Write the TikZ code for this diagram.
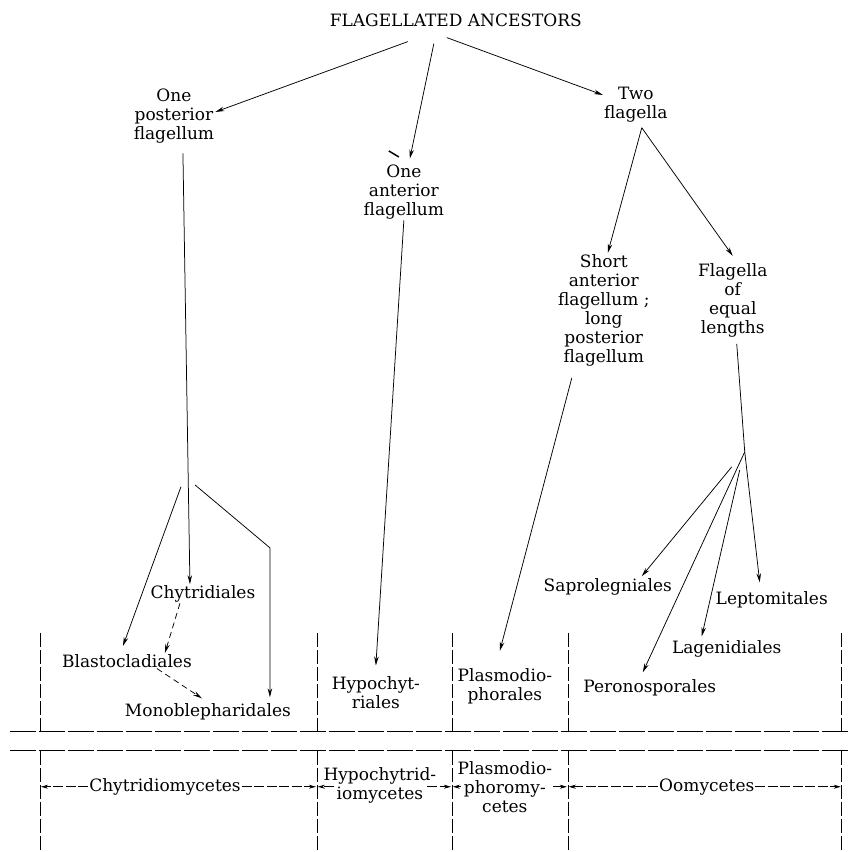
\documentclass[tikz,border=0pt]{standalone}
\usepackage{fontspec}
\setmainfont{DejaVu Serif}
\usepackage{tikz}
\usetikzlibrary{arrows.meta}

\begin{document}
\begin{tikzpicture}[x=1pt, y=-1pt,
    taxon/.style={align=center, font=\fontsize{17}{19}\selectfont, inner sep=1pt},
    arrow/.style={-{Stealth[length=9pt,width=4.5pt]}, line width=0.75pt},
    dasharrow/.style={arrow, dash pattern=on 6pt off 4pt},
    divider/.style={line width=0.6pt, dash pattern=on 14pt off 3pt},
    rule/.style={line width=0.8pt, dash pattern=on 26pt off 3pt},
    grouparrow/.style={-{Stealth[length=7pt,width=4pt]}, line width=0.6pt, dash pattern=on 10pt off 2.5pt, shorten >=1pt}
]
\fill[white] (0,0) rectangle (851,852);

\node[taxon] (anc) at (456,20) {FLAGELLATED ANCESTORS};

\node[taxon] (post) at (174,116) {One\\posterior\\flagellum};
\node[taxon] (ant) at (404,192) {One\\anterior\\flagellum};
\node[taxon] (two) at (636,105) {Two\\flagella};
\node[taxon] (short) at (604,311) {Short\\anterior\\flagellum ;\\long\\posterior\\flagellum};
\node[taxon] (equal) at (733,301) {Flagella\\of\\equal\\lengths};

\node[taxon] (chyt) at (203,594) {Chytridiales};
\node[taxon] (blas) at (127,661) {Blastocladiales};
\node[taxon] (mono) at (208,712) {Monoblepharidales};
\node[taxon] (hypo) at (376,693) {Hypochyt-\\riales};
\node[taxon] (plas) at (505,687) {Plasmodio-\\phorales};
\node[taxon] (sapr) at (608,587) {Saprolegniales};
\node[taxon] (lept) at (772,600) {Leptomitales};
\node[taxon] (lage) at (727,649) {Lagenidiales};
\node[taxon] (pero) at (650,688) {Peronosporales};

\node[taxon] (chytcl) at (165,787) {Chytridiomycetes};
\node[taxon] (hypocl) at (380,786) {Hypochytrid-\\iomycetes};
\node[taxon] (plascl) at (505,787) {Plasmodio-\\phoromy-\\cetes};
\node[taxon] (oocl) at (707,787) {Oomycetes};

\coordinate (forkl) at (181,487);
\coordinate (forkr) at (195,485);
\coordinate (bend) at (270,548);
\coordinate (ofork) at (745,452);
\coordinate (oforkb) at (740,470);
\coordinate (oforkc) at (732,467);

\draw[arrow] ([xshift=-48pt,yshift=-14pt]anc.south) -- ([yshift=4pt]post.east);
\draw[arrow] ([xshift=-22pt,yshift=-16pt]anc.south) -- ([xshift=6pt,yshift=5pt]ant.north);
\draw[arrow] ([xshift=-9pt,yshift=-10pt]anc.south) -- ([yshift=10pt]two.west);
\draw[line width=1.5pt] (389,151) -- (399,157);

\draw[arrow] ([xshift=6pt,yshift=-4pt]two.south) -- ([xshift=4pt,yshift=1pt]short.north);
\draw[arrow] ([xshift=6pt,yshift=-4pt]two.south) -- ([yshift=7pt]equal.north);

\draw[arrow] ([xshift=9pt,yshift=-9pt]post.south) -- ([xshift=-13pt]chyt.north);
\draw[arrow] (forkl) -- ([xshift=-4pt,yshift=7pt]blas.north);
\draw[arrow] (forkr) -- (bend) -- ([yshift=5pt]bend |- mono.north);
\draw[dasharrow] ([xshift=-23pt]chyt.south) -- ([xshift=38pt]blas.north);
\draw[dasharrow] ([xshift=30pt]blas.south) -- ([xshift=-6pt,yshift=4pt]mono.north);

\draw[arrow] (ant.south) -- ([yshift=10pt]hypo.north);
\draw[arrow] ([xshift=-32pt,yshift=-10pt]short.south) -- ([xshift=-5pt,yshift=17pt]plas.north);

\draw[arrow] ([xshift=4pt,yshift=-5pt]equal.south) -- (ofork) -- ([xshift=-12pt,yshift=8pt]lept.north);
\draw[arrow] (ofork) -- ([xshift=-7pt,yshift=6pt]pero.north);
\draw[arrow] (oforkb) -- ([xshift=-25pt,yshift=3pt]lage.north);
\draw[arrow] (oforkc) -- ([xshift=34pt,yshift=1pt]sapr.north);

\draw[rule] (10,732) -- (851,732);
\draw[rule] (10,751) -- (851,751);

\foreach \x/\n in {40/1,317/2,452/3,568/4,842/5} {
  \draw[divider] (\x,633) -- (\x,732);
  \draw[divider] (\x,751) -- (\x,852);
  \coordinate (d\n) at (\x,787);
}

\draw[grouparrow] (chytcl) -- (d1);
\draw[grouparrow] (chytcl) -- (d2);
\draw[grouparrow] ([xshift=12pt,yshift=-1pt]hypocl.west) -- (d2);
\draw[grouparrow] ([xshift=-10pt,yshift=-1pt]hypocl.east) -- (d3);
\draw[grouparrow] ([xshift=5pt]plascl.west) -- (d3);
\draw[grouparrow] (plascl.east) -- (d4);
\draw[grouparrow] (oocl) -- (d4);
\draw[grouparrow] (oocl) -- (d5);

\end{tikzpicture}
\end{document}
